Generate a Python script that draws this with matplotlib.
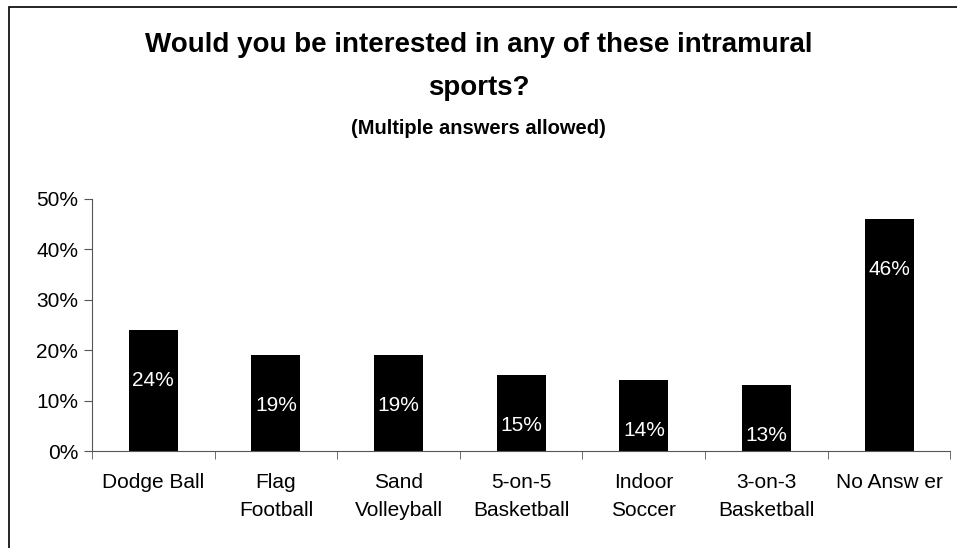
import numpy as np
import matplotlib
matplotlib.use('Agg')
import matplotlib.pyplot as plt
from matplotlib.patches import Rectangle

categories = ['Dodge Ball', 'Flag\nFootball', 'Sand\nVolleyball', '5-on-5\nBasketball',
              'Indoor\nSoccer', '3-on-3\nBasketball', 'No Answ er']
values = [24, 19, 19, 15, 14, 13, 46]
yticks = [0, 10, 20, 30, 40, 50]

plt.rcParams['font.family'] = ['Liberation Sans', 'DejaVu Sans']

fig = plt.figure(figsize=(9.57, 5.48), dpi=100)
ax = fig.add_axes([0.0961, 0.177, 0.897, 0.46])

x = np.arange(len(categories))
ax.bar(x, values, width=0.4, color='black')
for xi, v in zip(x, values):
    ax.annotate(f'{v}%', (xi, v), xytext=(0, -36), textcoords='offset points',
                ha='center', va='center', color='white', fontsize=15)

ax.set_xlim(-0.5, len(categories) - 0.5)
ax.set_ylim(0, 50)
ax.set_yticks(yticks)
ax.set_yticklabels([f'{t}%' for t in yticks], fontsize=15)
ax.set_xticks(x)
ax.set_xticklabels(categories, fontsize=15, linespacing=1.6)
ax.set_xticks(np.arange(len(categories) + 1) - 0.5, minor=True)
ax.tick_params(axis='x', which='major', length=0, pad=16)
ax.tick_params(axis='x', which='minor', length=6, direction='out', color='#555555')
ax.tick_params(axis='y', length=6, direction='out', color='#555555', pad=4)
for s in ['top', 'right']:
    ax.spines[s].set_visible(False)
ax.spines['left'].set_color('#555555')
ax.spines['bottom'].set_color('#555555')

fig.text(0.5, 0.918, 'Would you be interested in any of these intramural', ha='center',
         va='center', fontsize=20, fontweight='bold')
fig.text(0.5, 0.839, 'sports?', ha='center', va='center', fontsize=20, fontweight='bold')
fig.text(0.5, 0.766, '(Multiple answers allowed)', ha='center', va='center',
         fontsize=14.5, fontweight='bold')

fig.patches.append(Rectangle((0.009, -0.01), 1.0, 0.997, transform=fig.transFigure,
                             fill=False, edgecolor='black', linewidth=1.2))

fig.savefig('out.png', dpi=100)
